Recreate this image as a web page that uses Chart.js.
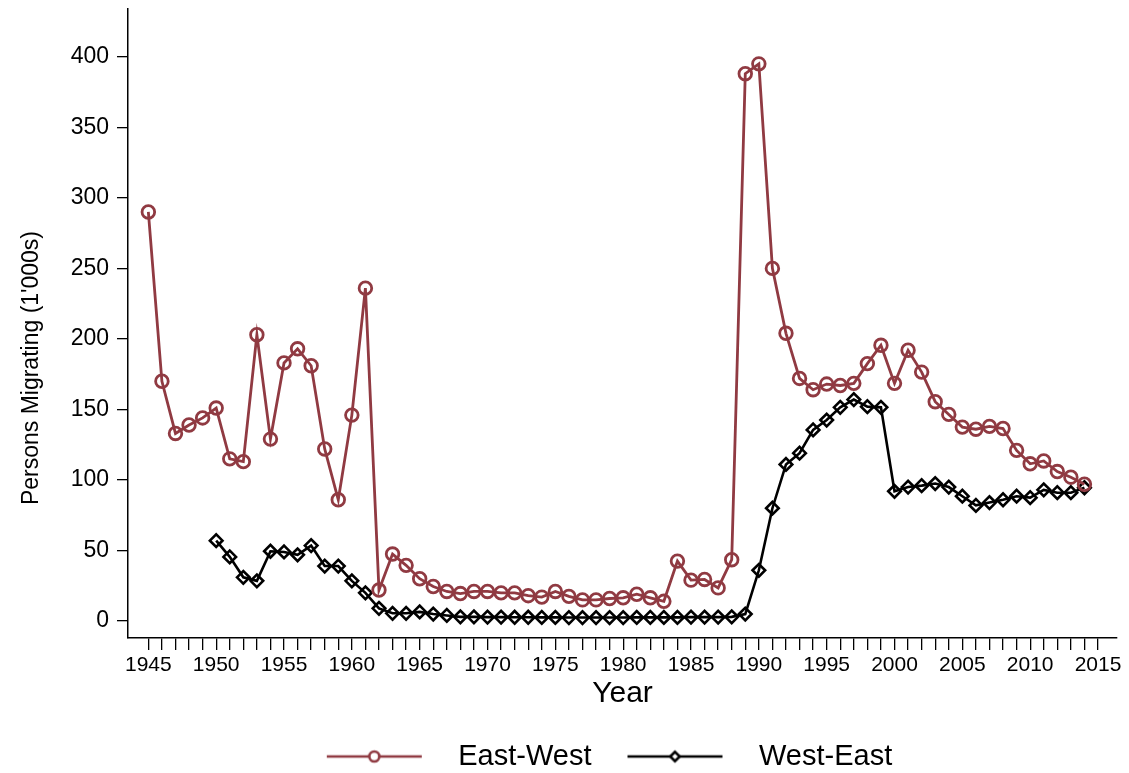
<!DOCTYPE html>
<html>
<head>
<meta charset="utf-8">
<script src="https://cdn.jsdelivr.net/npm/chart.js@4.4.1/dist/chart.umd.min.js"></script>
<style>
  html, body { margin: 0; padding: 0; background: #fff; }
  #wrap { width: 1129px; height: 773px; }
</style>
</head>
<body>
<div id="wrap"><canvas id="migChart" width="1129" height="773"></canvas></div>
<script>
// data (persons, thousands)
const years = [1945, 1946, 1947, 1948, 1949, 1950, 1951, 1952, 1953, 1954,
  1955, 1956, 1957, 1958, 1959, 1960, 1961, 1962, 1963, 1964,
  1965, 1966, 1967, 1968, 1969, 1970, 1971, 1972, 1973, 1974,
  1975, 1976, 1977, 1978, 1979, 1980, 1981, 1982, 1983, 1984,
  1985, 1986, 1987, 1988, 1989, 1990, 1991, 1992, 1993, 1994,
  1995, 1996, 1997, 1998, 1999, 2000, 2001, 2002, 2003, 2004,
  2005, 2006, 2007, 2008, 2009, 2010, 2011, 2012, 2013, 2014];

const eastWest = [290, 170, 133, 139, 144, 151, 115, 113, 203, 129,
  183, 193, 181, 122, 86, 146, 236, 22, 47.5, 39.5,
  30, 24.5, 21, 19.5, 21, 21, 20, 20, 18, 17,
  21, 17.5, 15, 15, 16, 16.5, 19, 16.5, 14, 42.5,
  29, 29.5, 23.5, 43.5, 388, 395, 250, 204, 172, 164,
  168, 167, 168.5, 182.5, 195.5, 168.5, 192, 176.5, 155.5, 146.5,
  137.5, 136, 138, 136.5, 121, 111.5, 113.5, 106, 102, 97];

const westEast = [null, null, null, null, null, 57, 45.5, 31, 28.5, 49.5,
  49, 47, 53.5, 39, 39, 28.5, 20, 9, 5.5, 5.5,
  6.5, 5, 4, 3, 3, 2.8, 2.8, 2.7, 2.7, 2.6,
  2.6, 2.5, 2.5, 2.5, 2.5, 2.5, 2.6, 2.6, 2.6, 2.6,
  2.8, 2.8, 2.8, 3, 5, 36, 80, 111, 119, 135.5,
  142.5, 151.5, 157, 152, 151.5, 92, 95, 96, 97.5, 95,
  88.5, 82, 84, 86, 88.5, 87.5, 93, 91, 91, 94.5];

const xTicks = [];
for (let y = 1945; y <= 2015; y++) xTicks.push(y);
const yTicks = [0, 50, 100, 150, 200, 250, 300, 350, 400];

const seriesNames = ['East-West', 'West-East'];
const seriesColors = ['#903a42', '#000000'];

const FONT = '"Liberation Sans", Arial, Helvetica, sans-serif';

function toPoints(vals) {
  return years.map((yr, i) => ({ x: yr, y: vals[i] }));
}

// legend key: short line with the marker in the middle (stata style)
function legendKey(color, marker) {
  const c = document.createElement('canvas');
  c.width = 127;
  c.height = 20;
  const g = c.getContext('2d');
  g.strokeStyle = color;
  g.lineWidth = 2.6;
  g.beginPath();
  g.moveTo(10, 10);
  g.lineTo(105, 10);
  g.stroke();
  g.fillStyle = '#fff';
  g.beginPath();
  if (marker === 'circle') {
    g.arc(57.5, 10, 5, 0, Math.PI * 2);
  } else {
    g.moveTo(57.5, 5.3);
    g.lineTo(62.2, 10);
    g.lineTo(57.5, 14.7);
    g.lineTo(52.8, 10);
    g.closePath();
  }
  g.fill();
  g.stroke();
  return c;
}
const legendKeys = [legendKey(seriesColors[0], 'circle'), legendKey(seriesColors[1], 'diamond')];

// nudge legend and y title to where stata puts them
let titleWrapped = false;
const stataNudge = {
  id: 'stataNudge',
  afterLayout(chart) {
    const lg = chart.legend;
    if (lg) {
      lg.left += 46; lg.right += 46;
      lg.top += 8; lg.bottom += 8;
    }
    const ys = chart.scales.y;
    if (ys && !titleWrapped) {
      titleWrapped = true;
      const orig = ys.drawTitle;
      ys.drawTitle = function () {
        const t = this.top;
        this.top = t + 89;
        orig.call(this);
        this.top = t;
      };
    }
  }
};

new Chart(document.getElementById('migChart'), {
  type: 'line',
  data: {
    datasets: [{
      label: seriesNames[0],
      data: toPoints(eastWest),
      borderColor: seriesColors[0],
      borderWidth: 2.8,
      pointStyle: 'circle',
      pointRadius: 6.3,
      pointBorderWidth: 2.8,
      pointBorderColor: seriesColors[0],
      pointBackgroundColor: 'rgba(0,0,0,0)',
      tension: 0
    }, {
      label: seriesNames[1],
      data: toPoints(westEast),
      borderColor: seriesColors[1],
      borderWidth: 2.6,
      pointStyle: 'rectRot',
      pointRadius: 6.3,
      pointBorderWidth: 2.6,
      pointBorderColor: seriesColors[1],
      pointBackgroundColor: 'rgba(0,0,0,0)',
      tension: 0,
      spanGaps: false
    }]
  },
  options: {
    responsive: false,
    animation: false,
    layout: { padding: { left: 0, top: 5, right: 12, bottom: 0 } },
    scales: {
      x: {
        type: 'linear',
        min: 1943.5,
        max: 2016.4,
        afterBuildTicks: axis => { axis.ticks = xTicks.map(v => ({ value: v })); },
        afterFit: scale => { scale.height = 70; scale.paddingLeft = 0; scale.paddingRight = 0; },
        grid: { drawOnChartArea: false, drawTicks: true, tickLength: 12, color: '#000', lineWidth: 1.3 },
        border: { display: true, color: '#000', width: 1.5 },
        ticks: {
          autoSkip: false,
          maxRotation: 0,
          padding: 3,
          color: '#000',
          font: { family: FONT, size: 21 },
          callback: v => (v % 5 === 0 ? String(v) : '')
        },
        title: { display: true, text: 'Year', color: '#000', font: { family: FONT, size: 30, lineHeight: 0.93 }, padding: { top: 0, bottom: 0 } }
      },
      y: {
        min: -12,
        max: 433.8,
        afterBuildTicks: axis => { axis.ticks = yTicks.map(v => ({ value: v })); },
        afterFit: scale => { scale.width = 128; scale.paddingTop = 0; scale.paddingBottom = 0; },
        grid: { drawOnChartArea: false, drawTicks: true, tickLength: 11, color: '#000', lineWidth: 1.3 },
        border: { display: true, color: '#000', width: 1.5 },
        ticks: {
          autoSkip: false,
          padding: 8,
          color: '#000',
          font: { family: FONT, size: 23 }
        },
        title: { display: true, text: "Persons Migrating (1'000s)", color: '#000', font: { family: FONT, size: 23 }, padding: { top: 18, bottom: 4 } }
      }
    },
    plugins: {
      legend: {
        position: 'bottom',
        labels: {
          usePointStyle: true,
          pointStyleWidth: 127,
          padding: 26,
          color: '#000',
          font: { family: FONT, size: 29 },
          generateLabels: chart => chart.data.datasets.map((ds, i) => ({
            text: ds.label,
            pointStyle: legendKeys[i],
            fillStyle: 'rgba(0,0,0,0)',
            strokeStyle: 'rgba(0,0,0,0)',
            lineWidth: 0,
            fontColor: '#000',
            hidden: false,
            datasetIndex: i
          }))
        }
      },
      tooltip: { enabled: false }
    }
  },
  plugins: [stataNudge]
});
</script>
</body>
</html>
